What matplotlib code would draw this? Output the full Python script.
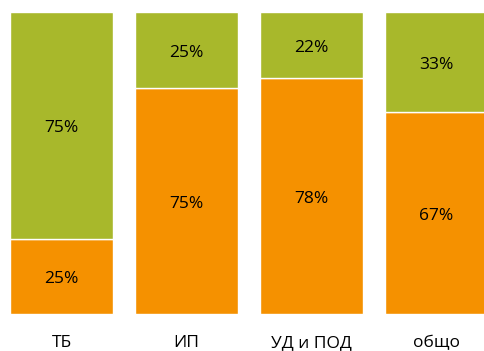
import matplotlib.pyplot as plt

# data
categories = ["ТБ", "ИП", "УД и ПОД", "общо"]
orange_vals = [25, 75, 78, 67]
green_vals = [75, 25, 22, 33]

orange = "#F59100"
green = "#A8B82B"

plt.rcParams['font.family'] = ['Open Sans', 'DejaVu Sans']

fig = plt.figure(figsize=(4.85, 3.51), dpi=100)
ax = fig.add_axes([0, 37 / 351, 1, 302 / 351])

x = range(len(categories))
ax.bar(x, orange_vals, width=0.824, color=orange, edgecolor="white", linewidth=1)
ax.bar(x, green_vals, width=0.824, bottom=orange_vals, color=green,
       edgecolor="white", linewidth=1)

for i in x:
    ax.text(i, orange_vals[i] / 2 - 1, f"{orange_vals[i]}%", ha="center", va="center", fontsize=12.5)
    ax.text(i, orange_vals[i] + green_vals[i] / 2 - 1, f"{green_vals[i]}%",
            ha="center", va="center", fontsize=12.5)

ax.set_xlim(-0.492, 3.388)
ax.set_ylim(0, 100)
ax.set_xticks(list(x))
ax.set_xticklabels(categories, fontsize=12.5)
ax.tick_params(axis="x", length=0, pad=15)
ax.set_yticks([])
for s in ax.spines.values():
    s.set_visible(False)

plt.savefig("out.png", dpi=100)
